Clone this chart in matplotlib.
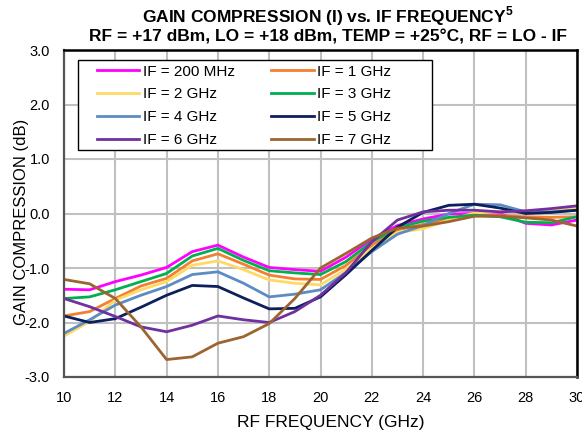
import numpy as np
import matplotlib.pyplot as plt
from matplotlib.patches import Rectangle

plt.rcParams['font.family'] = ['Liberation Sans', 'DejaVu Sans']
plt.rcParams['axes.unicode_minus'] = False
plt.rcParams['mathtext.fontset'] = 'custom'
plt.rcParams['mathtext.bf'] = 'Liberation Sans:bold'

# data
rf_ghz = list(range(10, 31))

if_200mhz = [-1.39, -1.40, -1.25, -1.13, -0.99, -0.70, -0.58, -0.80, -0.99, -1.03, -1.06,
             -0.80, -0.47, -0.22, -0.10, -0.01, 0.00, 0.00, -0.18, -0.21, -0.12]
if_1ghz = [-1.88, -1.80, -1.56, -1.33, -1.19, -0.87, -0.74, -0.93, -1.13, -1.20, -1.21,
           -0.95, -0.58, -0.30, -0.20, -0.10, -0.04, -0.04, -0.06, -0.07, -0.06]
if_2ghz = [-2.25, -1.98, -1.59, -1.40, -1.25, -0.95, -0.87, -1.03, -1.22, -1.28, -1.31,
           -1.02, -0.65, -0.35, -0.28, -0.12, 0.01, 0.03, 0.04, 0.07, 0.10]
if_3ghz = [-1.56, -1.53, -1.40, -1.25, -1.10, -0.78, -0.64, -0.86, -1.05, -1.09, -1.12,
           -0.88, -0.52, -0.26, -0.14, -0.07, -0.03, -0.06, -0.16, -0.17, -0.06]
if_4ghz = [-2.20, -1.95, -1.68, -1.50, -1.34, -1.12, -1.07, -1.28, -1.53, -1.48, -1.40,
           -1.08, -0.70, -0.38, -0.22, 0.00, 0.17, 0.16, 0.03, 0.03, 0.06]
if_5ghz = [-1.88, -2.00, -1.93, -1.72, -1.50, -1.32, -1.34, -1.55, -1.75, -1.74, -1.53,
           -1.12, -0.68, -0.25, 0.02, 0.15, 0.17, 0.10, 0.00, 0.02, 0.06]
if_6ghz = [-1.56, -1.71, -1.89, -2.08, -2.17, -2.05, -1.88, -1.95, -2.00, -1.80, -1.50,
           -1.08, -0.52, -0.12, 0.03, 0.06, 0.06, 0.03, 0.05, 0.09, 0.14]
if_7ghz = [-1.21, -1.29, -1.56, -2.08, -2.68, -2.63, -2.38, -2.26, -2.02, -1.56, -1.00,
           -0.73, -0.45, -0.27, -0.23, -0.15, -0.05, -0.05, -0.08, -0.12, -0.23]

series = [if_200mhz, if_1ghz, if_2ghz, if_3ghz, if_4ghz, if_5ghz, if_6ghz, if_7ghz]
labels = ['IF = 200 MHz', 'IF = 1 GHz', 'IF = 2 GHz', 'IF = 3 GHz',
          'IF = 4 GHz', 'IF = 5 GHz', 'IF = 6 GHz', 'IF = 7 GHz']
colors = ['#FF00FF', '#F37F30', '#FFD966', '#00B050',
          '#5B8CC4', '#0D1F5C', '#7030A0', '#9C6530']

W, H = 582, 433
fig = plt.figure(figsize=(W / 100, H / 100), dpi=100)
ax = fig.add_axes([64 / W, 1 - 377 / H, 513 / W, 327 / H])

handles = []
for vals, lab, col in zip(series, labels, colors):
    ln, = ax.plot(rf_ghz, vals, color=col, lw=2.0, label=lab)
    handles.append(ln)

ax.set_xlim(10, 30)
ax.set_ylim(-3, 3)
ax.set_xticks(range(10, 31, 2))
yt = np.arange(-3, 4, 1)
ax.set_yticks(yt)
ax.set_yticklabels([f'{v:.1f}' for v in yt])
ax.tick_params(length=0, labelsize=10.5, pad=10)
ax.grid(color='#C0C0C0', lw=1.5)
ax.set_axisbelow(True)

for s in ['left', 'bottom']:
    ax.spines[s].set_color('#555555')
    ax.spines[s].set_linewidth(1.6)
for s in ['top', 'right']:
    ax.spines[s].set_color('black')
    ax.spines[s].set_linewidth(1.8)

# legend box, filled row by row like the reference
order = [0, 2, 4, 6, 1, 3, 5, 7]
box = Rectangle((78 / W, 1 - 150 / H), (432 - 78) / W, 90 / H, transform=fig.transFigure,
                facecolor='white', edgecolor='black', lw=1, zorder=4, clip_on=False)
ax.add_artist(box)
ax.legend([handles[i] for i in order], [labels[i] for i in order], ncol=2,
          loc='upper left', bbox_to_anchor=(96.7 / W, 1 - 64.5 / H), bbox_transform=fig.transFigure,
          frameon=False, fontsize=11, handlelength=2.8, handletextpad=0.2,
          columnspacing=2.4, labelspacing=0.58, borderpad=0, borderaxespad=0)

fig.text(328 / W, 1 - 22 / H, r'GAIN COMPRESSION (I) vs. IF FREQUENCY$^{\mathbf{5}}$',
         ha='center', va='baseline', fontsize=12.5, fontweight='bold')
fig.text(328 / W, 1 - 41 / H, 'RF = +17 dBm, LO = +18 dBm, TEMP = +25°C, RF = LO - IF',
         ha='center', va='baseline', fontsize=12.5, fontweight='bold')
fig.text(331 / W, 1 - 422 / H, 'RF FREQUENCY (GHz)', ha='center', va='center', fontsize=12.5)
fig.text(21.5 / W, 1 - 222 / H, 'GAIN COMPRESSION (dB)', rotation=90,
         ha='center', va='center', fontsize=12)

fig.savefig('out.png', dpi=100)
